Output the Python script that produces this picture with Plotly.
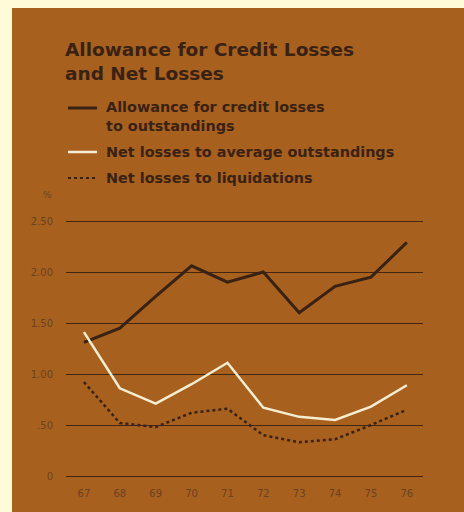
import plotly.graph_objects as go

# Fiscal years (two-digit) and the three ratio series, in percent
years = [67, 68, 69, 70, 71, 72, 73, 74, 75, 76]
year_labels = ["67", "68", "69", "70", "71", "72", "73", "74", "75", "76"]
allowance_to_outstandings = [1.31, 1.45, 1.76, 2.06, 1.90, 2.00, 1.60, 1.86, 1.95, 2.29]
net_losses_to_avg_outstandings = [1.41, 0.86, 0.71, 0.90, 1.11, 0.67, 0.58, 0.55, 0.68, 0.89]
net_losses_to_liquidations = [0.92, 0.52, 0.48, 0.62, 0.66, 0.40, 0.33, 0.36, 0.50, 0.65]

y_ticks = [0, 0.5, 1.0, 1.5, 2.0, 2.5]
y_tick_labels = ["0", ".50", "1.00", "1.50", "2.00", "2.50"]

legend_labels = [
    "Allowance for credit losses<br>to outstandings",
    "Net losses to average outstandings",
    "Net losses to liquidations",
]

W, H = 464, 512
CREAM = "#FFFBD8"
BROWN = "#A8601F"
DARK = "#3A2212"
LIGHT = "#F6EED2"
TICK = "#6A421E"
FONT = "DejaVu Sans, Verdana, sans-serif"

fig = go.Figure()

fig.add_trace(go.Scatter(
    x=years, y=allowance_to_outstandings, mode="lines",
    line=dict(color=DARK, width=3), showlegend=False))
fig.add_trace(go.Scatter(
    x=years, y=net_losses_to_avg_outstandings, mode="lines",
    line=dict(color=LIGHT, width=2.5), showlegend=False))
fig.add_trace(go.Scatter(
    x=years, y=net_losses_to_liquidations, mode="lines",
    line=dict(color=DARK, width=2.5, dash="dot"), showlegend=False))

# plot-area placement in pixels
L, R, T, B = 66, 423, 206, 482
px_per_unit = 102.0
y0_px = 476
y_lo = -(B - y0_px) / px_per_unit
y_hi = (y0_px - T) / px_per_unit


def fx(xp):
    return (xp - L) / (R - L)


def fy(yp):
    return (B - yp) / (B - T)


shapes = [
    # brown panel
    dict(type="rect", xref="paper", yref="paper",
         x0=fx(12), x1=fx(W + 5), y0=fy(H + 5), y1=fy(8),
         fillcolor=BROWN, line=dict(width=0), layer="below"),
]

annotations = [
    dict(text="<b>Allowance for Credit Losses<br>and Net Losses</b>",
         xref="paper", yref="paper", x=fx(63), y=fy(61),
         xanchor="left", yanchor="middle", align="left", showarrow=False,
         font=dict(family=FONT, size=18.5, color=DARK)),
    dict(text="%", xref="paper", yref="paper", x=fx(47), y=fy(195),
         xanchor="center", yanchor="middle", showarrow=False,
         font=dict(family=FONT, size=9, color=TICK)),
]

# legend keys drawn with shapes and text
legend_rows = [(108, 117), (152, 152), (178, 178)]
legend_styles = [
    dict(color=DARK, width=3),
    dict(color=LIGHT, width=2.5),
    dict(color=DARK, width=2, dash="dot"),
]
for (key_y, text_y), style, label in zip(legend_rows, legend_styles, legend_labels):
    shapes.append(dict(type="line", xref="paper", yref="paper",
                       x0=fx(68), x1=fx(97), y0=fy(key_y), y1=fy(key_y),
                       line=style))
    annotations.append(dict(text="<b>" + label.replace("<br>", "</b><br><b>") + "</b>",
                            xref="paper", yref="paper", x=fx(104), y=fy(text_y),
                            xanchor="left", yanchor="middle", align="left",
                            showarrow=False,
                            font=dict(family=FONT, size=14.4, color=DARK)))

fig.update_layout(
    width=W, height=H,
    margin=dict(l=L, r=W - R, t=T, b=H - B),
    paper_bgcolor=CREAM, plot_bgcolor="rgba(0,0,0,0)",
    shapes=shapes, annotations=annotations,
    showlegend=False,
    xaxis=dict(range=[66.5, 76.45], tickvals=years, ticktext=year_labels,
               showgrid=False, zeroline=False, showline=False, ticks="",
               ticklabelstandoff=4,
               tickfont=dict(family=FONT, size=10, color=TICK)),
    yaxis=dict(range=[y_lo, y_hi], tickvals=y_ticks, ticktext=y_tick_labels,
               showgrid=True, gridcolor="#442610", gridwidth=1.3,
               zeroline=False, showline=False, ticks="",
               ticklabelstandoff=12,
               tickfont=dict(family=FONT, size=10, color=TICK)),
)

fig.write_html("out.html")
